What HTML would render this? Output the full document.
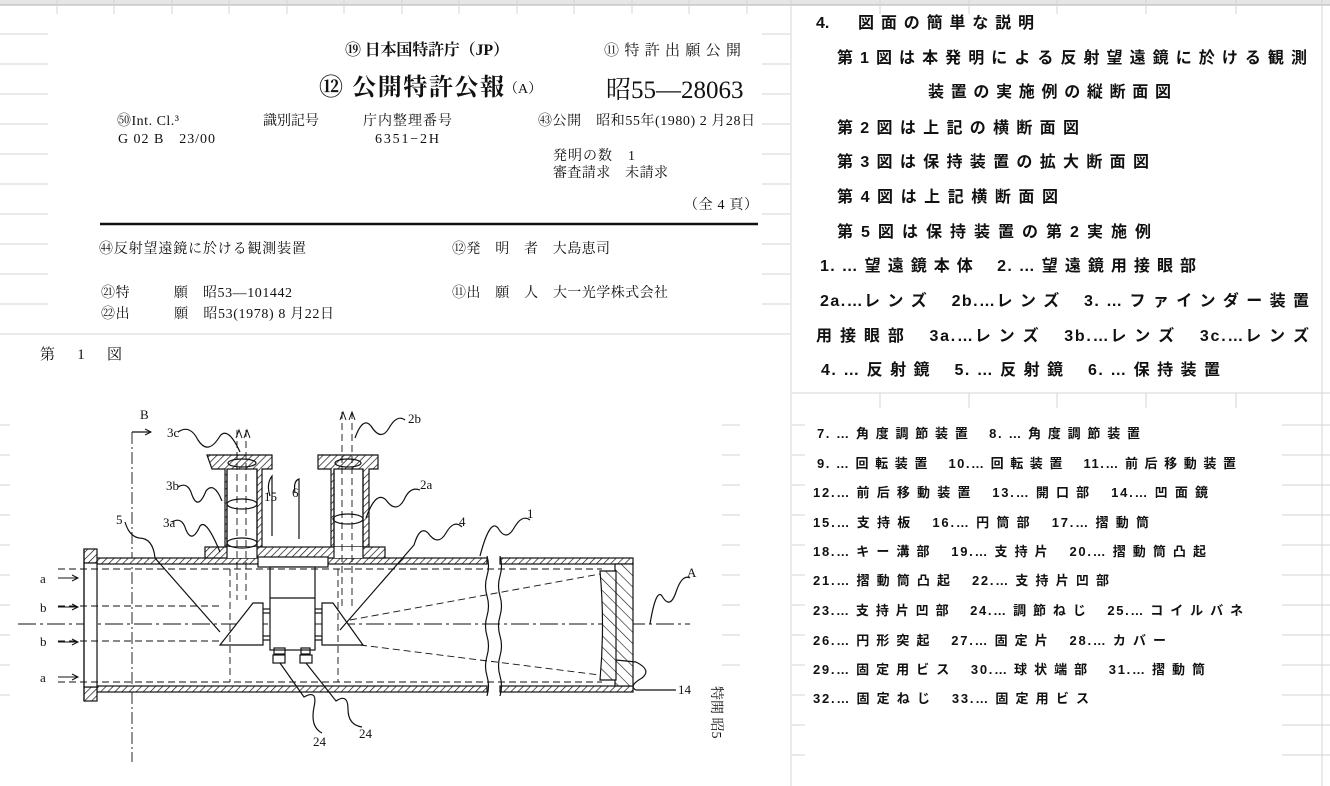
<!DOCTYPE html>
<html><head><meta charset="utf-8"><style>
html,body{margin:0;padding:0;background:#fff;}
svg{display:block;}
.s{font-family:"Liberation Serif","Noto Serif CJK JP","Noto Sans CJK JP",serif;fill:#111;}
.g{font-family:"Liberation Sans","Noto Sans CJK JP",sans-serif;fill:#111;font-weight:bold;}
.l{font-family:"Liberation Serif","Noto Serif CJK JP",serif;fill:#111;font-size:13px;}
</style></head><body>
<svg width="1330" height="786" viewBox="0 0 1330 786" xmlns="http://www.w3.org/2000/svg">
<defs>
<pattern id="h" width="5" height="5" patternUnits="userSpaceOnUse" patternTransform="rotate(45)">
<rect width="5" height="5" fill="#fff"/><line x1="0" y1="0" x2="0" y2="5" stroke="#111" stroke-width="1.4"/></pattern>
<pattern id="h2" width="8" height="8" patternUnits="userSpaceOnUse" patternTransform="rotate(-45)">
<rect width="8" height="8" fill="#fff"/><line x1="0" y1="0" x2="0" y2="8" stroke="#111" stroke-width="1.2"/></pattern>
</defs>
<rect width="1330" height="786" fill="#fff"/>
<rect x="0" y="0" width="1330" height="5" fill="#e6e6e6"/>
<line x1="0" y1="5" x2="1330" y2="5" stroke="#b0b0b0"/>
<g stroke="#d4d4d4" stroke-width="1">
<line x1="57" y1="0" x2="57" y2="14"/><line x1="114" y1="0" x2="114" y2="14"/><line x1="172" y1="0" x2="172" y2="14"/><line x1="229" y1="0" x2="229" y2="14"/><line x1="287" y1="0" x2="287" y2="14"/><line x1="344" y1="0" x2="344" y2="14"/><line x1="402" y1="0" x2="402" y2="14"/><line x1="459" y1="0" x2="459" y2="14"/><line x1="517" y1="0" x2="517" y2="14"/><line x1="574" y1="0" x2="574" y2="14"/><line x1="632" y1="0" x2="632" y2="14"/><line x1="689" y1="0" x2="689" y2="14"/><line x1="747" y1="0" x2="747" y2="14"/>
<line x1="880" y1="0" x2="880" y2="14"/><line x1="969" y1="0" x2="969" y2="14"/><line x1="1057" y1="0" x2="1057" y2="14"/><line x1="1146" y1="0" x2="1146" y2="14"/><line x1="1236" y1="0" x2="1236" y2="14"/>
<line x1="791" y1="0" x2="791" y2="786"/><line x1="1322" y1="0" x2="1322" y2="786"/>
<line x1="0" y1="34" x2="48" y2="34"/><line x1="0" y1="64" x2="48" y2="64"/><line x1="0" y1="94" x2="48" y2="94"/><line x1="0" y1="124" x2="48" y2="124"/><line x1="0" y1="154" x2="48" y2="154"/><line x1="0" y1="184" x2="48" y2="184"/><line x1="0" y1="214" x2="48" y2="214"/><line x1="0" y1="244" x2="48" y2="244"/><line x1="0" y1="274" x2="48" y2="274"/><line x1="0" y1="304" x2="48" y2="304"/>
<line x1="0" y1="334" x2="790" y2="334"/>
<line x1="762" y1="34" x2="790" y2="34"/><line x1="762" y1="64" x2="790" y2="64"/><line x1="762" y1="94" x2="790" y2="94"/><line x1="762" y1="124" x2="790" y2="124"/><line x1="762" y1="154" x2="790" y2="154"/><line x1="762" y1="184" x2="790" y2="184"/><line x1="762" y1="214" x2="790" y2="214"/><line x1="762" y1="244" x2="790" y2="244"/><line x1="762" y1="274" x2="790" y2="274"/><line x1="762" y1="304" x2="790" y2="304"/>
<line x1="792" y1="393" x2="1330" y2="393"/>
<line x1="880" y1="393" x2="880" y2="408"/><line x1="969" y1="393" x2="969" y2="408"/><line x1="1057" y1="393" x2="1057" y2="408"/><line x1="1146" y1="393" x2="1146" y2="408"/><line x1="1236" y1="393" x2="1236" y2="408"/>
<line x1="792" y1="425" x2="805" y2="425"/><line x1="792" y1="455" x2="805" y2="455"/><line x1="792" y1="485" x2="805" y2="485"/><line x1="792" y1="515" x2="805" y2="515"/><line x1="792" y1="545" x2="805" y2="545"/><line x1="792" y1="575" x2="805" y2="575"/><line x1="792" y1="605" x2="805" y2="605"/><line x1="792" y1="635" x2="805" y2="635"/><line x1="792" y1="665" x2="805" y2="665"/><line x1="792" y1="695" x2="805" y2="695"/><line x1="792" y1="725" x2="805" y2="725"/><line x1="792" y1="755" x2="805" y2="755"/>
<line x1="1282" y1="425" x2="1330" y2="425"/><line x1="1282" y1="455" x2="1330" y2="455"/><line x1="1282" y1="485" x2="1330" y2="485"/><line x1="1282" y1="515" x2="1330" y2="515"/><line x1="1282" y1="545" x2="1330" y2="545"/><line x1="1282" y1="575" x2="1330" y2="575"/><line x1="1282" y1="605" x2="1330" y2="605"/><line x1="1282" y1="635" x2="1330" y2="635"/><line x1="1282" y1="665" x2="1330" y2="665"/><line x1="1282" y1="695" x2="1330" y2="695"/><line x1="1282" y1="725" x2="1330" y2="725"/><line x1="1282" y1="755" x2="1330" y2="755"/>
<line x1="0" y1="425" x2="10" y2="425"/><line x1="0" y1="455" x2="10" y2="455"/><line x1="0" y1="485" x2="10" y2="485"/><line x1="0" y1="515" x2="10" y2="515"/><line x1="0" y1="545" x2="10" y2="545"/><line x1="0" y1="575" x2="10" y2="575"/><line x1="0" y1="605" x2="10" y2="605"/><line x1="0" y1="635" x2="10" y2="635"/><line x1="0" y1="665" x2="10" y2="665"/><line x1="0" y1="695" x2="10" y2="695"/>
<line x1="722" y1="425" x2="740" y2="425"/><line x1="722" y1="455" x2="740" y2="455"/><line x1="722" y1="485" x2="740" y2="485"/><line x1="722" y1="515" x2="740" y2="515"/><line x1="722" y1="545" x2="740" y2="545"/><line x1="722" y1="575" x2="740" y2="575"/><line x1="722" y1="605" x2="740" y2="605"/><line x1="722" y1="635" x2="740" y2="635"/><line x1="722" y1="665" x2="740" y2="665"/>
</g>

<text class="s" x="345" y="55" font-size="16" font-weight="bold" textLength="164">⑲ 日本国特許庁（JP）</text>
<text class="s" x="604" y="55" font-size="15" textLength="137">⑪ 特 許 出 願 公 開</text>
<text class="s" x="319" y="95" font-size="24" font-weight="bold" textLength="185">⑫ 公開特許公報</text>
<text class="s" x="504" y="93" font-size="14">（A）</text>
<text class="s" x="606" y="98" font-size="25">昭55—28063</text>
<text class="s" x="117" y="125" font-size="14" textLength="62">㊿Int. Cl.³</text>
<text class="s" x="263" y="125" font-size="14" textLength="56">識別記号</text>
<text class="s" x="363" y="125" font-size="14" textLength="89">庁内整理番号</text>
<text class="s" x="538" y="125" font-size="14" textLength="217">㊸公開　昭和55年(1980) 2 月28日</text>
<text class="s" x="118" y="143" font-size="14" textLength="97">G 02 B　23/00</text>
<text class="s" x="375" y="143" font-size="14" textLength="64">6351−2H</text>
<text class="s" x="553" y="160" font-size="14" textLength="82">発明の数　1</text>
<text class="s" x="553" y="177" font-size="14" textLength="115">審査請求　未請求</text>
<text class="s" x="684" y="209" font-size="14" textLength="74">（全 4 頁）</text>
<line x1="100" y1="224" x2="758" y2="224" stroke="#111" stroke-width="2.5"/>
<text class="s" x="99" y="253" font-size="14" textLength="207">㊹反射望遠鏡に於ける観測装置</text>
<text class="s" x="452" y="253" font-size="14" textLength="158">⑫発　明　者　大島恵司</text>
<text class="s" x="101" y="297" font-size="14" textLength="191">㉑特　　　願　昭53—101442</text>
<text class="s" x="452" y="297" font-size="14" textLength="216">⑪出　願　人　大一光学株式会社</text>
<text class="s" x="101" y="318" font-size="14" textLength="233">㉒出　　　願　昭53(1978) 8 月22日</text>
<text class="s" x="40" y="359" font-size="15" textLength="82">第　1　図</text>

<g stroke="#111" fill="none" stroke-width="1.2">
<line x1="132" y1="432" x2="132" y2="762" stroke-dasharray="12 3 2 3" stroke-width="0.9"/>
<polyline points="132,432 150,432"/>
<line x1="18" y1="624" x2="690" y2="624" stroke-dasharray="18 4 3 4" stroke-width="0.9"/>
<rect x="97" y="558" width="390" height="6" fill="url(#h)"/>
<rect x="97" y="686" width="390" height="6" fill="url(#h)"/>
<rect x="500" y="558" width="133" height="6" fill="url(#h)"/>
<rect x="500" y="686" width="133" height="6" fill="url(#h)"/>
<rect x="84" y="549" width="13" height="14" fill="url(#h)"/>
<rect x="84" y="687" width="13" height="14" fill="url(#h)"/>
<rect x="84" y="563" width="13" height="124" fill="#fff"/>
<line x1="84" y1="549" x2="84" y2="701"/>
<path d="M487,556 q3,10 0,20 q-3,10 0,20 q3,10 0,20 q-3,10 0,20 q3,10 0,20 q-3,10 0,20 q3,10 0,20"/>
<path d="M500,556 q3,10 0,20 q-3,10 0,20 q3,10 0,20 q-3,10 0,20 q3,10 0,20 q-3,10 0,20 q3,10 0,20"/>
<rect x="615" y="564" width="18" height="122" fill="url(#h2)"/>
<path d="M600,571 L616,571 L616,680 L600,680 Q605,625 600,571 Z" fill="url(#h2)"/>
<path d="M207,455 h65 v14 h-10 v78 h-37 v-78 h-13 z" fill="url(#h)"/>
<rect x="227" y="469" width="30" height="78" fill="#fff"/>
<path d="M318,455 h60 v14 h-9 v78 h-38 v-78 h-13 z" fill="url(#h)"/>
<rect x="334" y="469" width="29" height="78" fill="#fff"/>
<rect x="205" y="547" width="180" height="11" fill="url(#h)"/>
<rect x="227" y="547" width="30" height="11" fill="#fff" stroke="none"/>
<rect x="334" y="547" width="29" height="11" fill="#fff" stroke="none"/>
<line x1="227" y1="469" x2="227" y2="558"/><line x1="257" y1="469" x2="257" y2="558"/>
<line x1="334" y1="469" x2="334" y2="558"/><line x1="363" y1="469" x2="363" y2="558"/>
<ellipse cx="242" cy="463" rx="14" ry="4"/><ellipse cx="242" cy="504" rx="15" ry="5"/><ellipse cx="242" cy="543" rx="15" ry="5"/>
<ellipse cx="348" cy="463" rx="13" ry="4"/><ellipse cx="348" cy="519" rx="15" ry="5"/>
<rect x="258" y="557" width="70" height="10" fill="#fff"/>
<rect x="270" y="567" width="45" height="83" fill="#fff"/>
<line x1="270" y1="598" x2="315" y2="598"/>
<rect x="274" y="648" width="11" height="6"/>
<rect x="273" y="655" width="12" height="8"/>
<rect x="301" y="648" width="9" height="6"/><rect x="300" y="655" width="12" height="8"/>
<polygon points="253,603 263,603 263,645 220,645" fill="#fff"/>
<line x1="263" y1="609" x2="270" y2="609"/><line x1="263" y1="613" x2="270" y2="613"/>
<line x1="263" y1="636" x2="270" y2="636"/><line x1="263" y1="640" x2="270" y2="640"/>
<polygon points="322,603 333,603 363,645 322,645" fill="#fff"/>
<line x1="315" y1="609" x2="322" y2="609"/><line x1="315" y1="613" x2="322" y2="613"/>
<line x1="315" y1="636" x2="322" y2="636"/><line x1="315" y1="640" x2="322" y2="640"/>
<g stroke-dasharray="7 4" stroke-width="0.9">
<line x1="58" y1="569" x2="602" y2="569"/><line x1="58" y1="682" x2="602" y2="682"/>
<line x1="58" y1="606" x2="222" y2="606"/><line x1="58" y1="641" x2="222" y2="641"/>
<line x1="350" y1="620" x2="600" y2="574"/><line x1="360" y1="645" x2="600" y2="675"/>
<line x1="230" y1="569" x2="230" y2="682"/><line x1="338" y1="569" x2="338" y2="682"/>
<line x1="237" y1="430" x2="237" y2="600"/><line x1="246" y1="430" x2="246" y2="600"/>
<line x1="342" y1="412" x2="342" y2="610"/><line x1="352" y1="412" x2="352" y2="610"/>
</g>
<g stroke-width="1">
<path d="M236,438 l3,-8 l3,8 M244,438 l3,-8 l3,8"/>
<path d="M340,420 l3,-8 l3,8 M349,420 l3,-8 l3,8"/>
<path d="M58,578 h20 M72,575 l6,3 l-6,3"/><path d="M58,607 h20 M72,604 l6,3 l-6,3"/>
<path d="M58,642 h20 M72,639 l6,3 l-6,3"/><path d="M58,677 h20 M72,674 l6,3 l-6,3"/>
<path d="M140,432 h10 M145,429 l6,3 l-6,3"/>
</g>
<path d="M178,432 q12,-8 20,8 q10,16 22,-4 q8,-10 20,16"/>
<path d="M405,420 q-8,-6 -16,8 q-8,14 -18,-2 q-8,-10 -16,12"/>
<path d="M178,487 q10,-6 14,8 q6,16 14,-4 q8,-10 16,10"/>
<path d="M420,490 q-10,-4 -16,10 q-8,14 -18,0 q-10,-10 -20,18"/>
<path d="M172,522 q10,-6 14,8 q6,14 14,-4 q6,-8 20,26"/>
<path d="M125,522 q4,14 14,16 q14,0 16,20 L220,632"/>
<path d="M462,527 q-8,-8 -16,6 q-8,14 -18,0 q-8,-8 -14,12 L340,630"/>
<path d="M530,520 q-8,-6 -16,8 q-8,14 -16,0 q-8,-10 -18,28"/>
<path d="M690,578 q-8,-4 -14,14 q-6,18 -14,4 q-6,-8 -12,28"/>
<path d="M676,690 h-40 q-8,-4 6,-12 q10,-8 -6,-16 l-20,-2"/>
<path d="M322,733 q-12,-6 -8,-26 q4,-18 -10,-10 l-24,-34"/>
<path d="M362,727 q-14,-2 -14,-18 q0,-16 -12,-8 l-30,-38"/>
<path d="M270,496 q-4,-12 2,-20 v60 M295,493 q-2,-12 4,-14 v60"/>
</g>
<g class="l">
<text x="140" y="419">B</text><text x="167" y="437">3c</text><text x="408" y="423">2b</text>
<text x="166" y="490">3b</text><text x="420" y="489">2a</text><text x="264" y="501">15</text><text x="292" y="497">6</text>
<text x="116" y="524">5</text><text x="163" y="527">3a</text><text x="459" y="526">4</text><text x="527" y="518">1</text>
<text x="687" y="577">A</text><text x="678" y="694">14</text><text x="313" y="746">24</text><text x="359" y="738">24</text>
<text x="40" y="583">a</text><text x="40" y="612">b</text><text x="40" y="646">b</text><text x="40" y="682">a</text>
</g>
<text class="s" x="708" y="690" font-size="14" transform="rotate(90 712 690)">特開 昭5</text>

<g class="g" font-size="16">
<text x="816" y="28">4.</text><text x="858" y="28" textLength="176">図 面 の 簡 単 な 説 明</text>
<text x="837" y="63" textLength="470">第 1 図 は 本 発 明 に よ る 反 射 望 遠 鏡 に 於 け る 観 測</text>
<text x="928" y="97" textLength="243">装 置 の 実 施 例 の 縦 断 面 図</text>
<text x="837" y="133" textLength="242">第 2 図 は 上 記 の 横 断 面 図</text>
<text x="837" y="167" textLength="312">第 3 図 は 保 持 装 置 の 拡 大 断 面 図</text>
<text x="837" y="202" textLength="221">第 4 図 は 上 記 横 断 面 図</text>
<text x="837" y="237" textLength="314">第 5 図 は 保 持 装 置 の 第 2 実 施 例</text>
<text x="820" y="271" textLength="376">1. … 望 遠 鏡 本 体　 2. … 望 遠 鏡 用 接 眼 部</text>
<text x="820" y="306" textLength="489">2a.…レ ン ズ　 2b.…レ ン ズ　 3. … フ ァ イ ン ダ ー 装 置</text>
<text x="816" y="341" textLength="493">用 接 眼 部　 3a.…レ ン ズ　 3b.…レ ン ズ　 3c.…レ ン ズ</text>
<text x="821" y="375" textLength="399">4. … 反 射 鏡　 5. … 反 射 鏡　 6. … 保 持 装 置</text>
</g>
<g class="g" font-size="13">
<text x="817" y="438" textLength="323">7. … 角 度 調 節 装 置　 8. … 角 度 調 節 装 置</text>
<text x="817" y="468" textLength="419">9. … 回 転 装 置　 10.… 回 転 装 置　 11.… 前 后 移 動 装 置</text>
<text x="813" y="497" textLength="395">12.… 前 后 移 動 装 置　 13.… 開 口 部　 14.… 凹 面 鏡</text>
<text x="813" y="527" textLength="336">15.… 支 持 板　 16.… 円 筒 部　 17.… 摺 動 筒</text>
<text x="813" y="556" textLength="393">18.… キ ー 溝 部　 19.… 支 持 片　 20.… 摺 動 筒 凸 起</text>
<text x="813" y="585" textLength="296">21.… 摺 動 筒 凸 起　 22.… 支 持 片 凹 部</text>
<text x="813" y="615" textLength="430">23.… 支 持 片 凹 部　 24.… 調 節 ね じ　 25.… コ イ ル バ ネ</text>
<text x="813" y="645" textLength="353">26.… 円 形 突 起　 27.… 固 定 片　 28.… カ バ ー</text>
<text x="813" y="674" textLength="392">29.… 固 定 用 ビ ス　 30.… 球 状 端 部　 31.… 摺 動 筒</text>
<text x="813" y="703" textLength="276">32.… 固 定 ね じ　 33.… 固 定 用 ビ ス</text>
</g>
</svg>
</body></html>
